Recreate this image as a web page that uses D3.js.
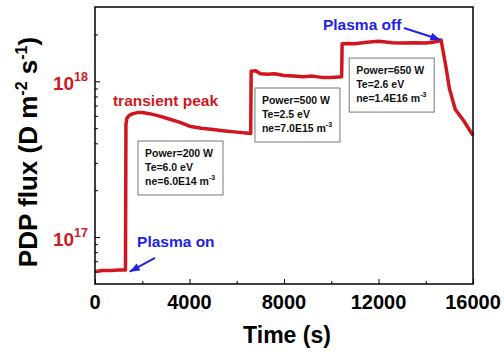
<!DOCTYPE html>
<html lang="en">
<head>
<meta charset="utf-8">
<title>PDP flux vs time</title>
<script src="https://cdn.jsdelivr.net/npm/d3@7"></script>
<style>
  body { margin: 0; background: #fff; }
  text { font-family: "Liberation Sans", Arial, sans-serif; font-weight: bold; }
  .line { fill: none; stroke: #d0161e; stroke-width: 3.5; stroke-linejoin: round; }
  .frame { fill: none; stroke: #000; stroke-width: 1.5; }
  .tick-label { font-size: 20px; fill: #000; }
  .ylab { font-size: 19px; fill: #cc1a22; }
  .axis-title { font-size: 23px; fill: #000; }
  .box rect { fill: #fff; stroke: #777; stroke-width: 1; }
  .box text { font-size: 10.5px; fill: #111; }
  .note-red { font-size: 15.5px; fill: #cc1a22; }
  .note-blue { font-size: 15.5px; fill: #2323e6; }
  .arrow { stroke: #2323e6; stroke-width: 2; fill: none; }
</style>
</head>
<body>
<div id="chart"></div>
<script>
// time (s) and PDP flux (D m^-2 s^-1)
const timeS = [0, 300, 700, 1000, 1290, 1310, 1350, 1450, 1600, 1800, 2000, 2300, 2700, 3100, 3600,
  4000, 4500, 5000, 5500, 6000, 6300, 6590, 6610, 6800, 7000, 7300, 7600, 8000, 8400, 8800,
  9200, 9600, 10000, 10440, 10460, 10700, 11000, 11500, 12000, 12300, 12600, 13000, 13500,
  14000, 14300, 14600, 14650, 14850, 15000, 15250, 15600, 16000];
const fluxD = [6.0e16, 6.1e16, 6.1e16, 6.15e16, 6.15e16, 5.3e17, 5.8e17, 6.05e17, 6.2e17, 6.3e17,
  6.3e17, 6.2e17, 6.0e17, 5.75e17, 5.45e17,
  5.15e17, 5.0e17, 4.9e17, 4.8e17, 4.72e17, 4.68e17, 4.62e17, 1.16e18, 1.17e18, 1.12e18,
  1.11e18, 1.12e18, 1.09e18, 1.08e18, 1.07e18,
  1.08e18, 1.06e18, 1.06e18, 1.07e18, 1.74e18, 1.75e18, 1.74e18, 1.78e18, 1.81e18, 1.79e18,
  1.77e18, 1.76e18, 1.77e18,
  1.76e18, 1.78e18, 1.82e18, 1.84e18, 1.25e18, 9.0e17, 6.6e17, 5.6e17, 4.5e17];

const xMajor = [0, 4000, 8000, 12000, 16000];
const xMinor = [2000, 6000, 10000, 14000];
const yMajor = [1e17, 1e18];
const yMinor = [6e16, 7e16, 8e16, 9e16, 2e17, 3e17, 4e17, 5e17, 6e17, 7e17, 8e17, 9e17, 2e18];

// condition boxes (top-left corner in data units)
const boxTime = [1820, 6770, 10760];
const boxFlux = [4.14e17, 9.06e17, 1.41e18];
const boxPower = ["Power=200 W", "Power=500 W", "Power=650 W"];
const boxTe = ["Te=6.0 eV", "Te=2.5 eV", "Te=2.6 eV"];
const boxNe = ["ne=6.0E14 m", "ne=7.0E15 m", "ne=1.4E16 m"];

// text notes
const noteLabel = ["transient peak", "Plasma off", "Plasma on"];
const noteTime = [760, 9650, 1780];
const noteFlux = [6.95e17, 2.13e18, 8.65e16];
const noteClass = ["note-red", "note-blue", "note-blue"];

// arrows: from -> to
const arrowFrom = [[13080, 2.2e18], [2540, 7.35e16]];
const arrowTo = [[14620, 1.85e18], [1470, 6.0e16]];

const margin = { top: 7, right: 31, bottom: 73, left: 95 };
const width = 504 - margin.left - margin.right;
const height = 357 - margin.top - margin.bottom;

const xScale = d3.scaleLinear().domain([0, 16000]).range([0, width]);
const yScale = d3.scaleLog().domain([5e16, 3e18]).range([height, 0]);

const svg = d3.select("#chart").append("svg")
  .attr("width", 504).attr("height", 357);
const g = svg.append("g")
  .attr("transform", "translate(" + margin.left + "," + margin.top + ")");

svg.append("defs").append("marker")
  .attr("id", "head")
  .attr("markerUnits", "userSpaceOnUse")
  .attr("viewBox", "0 0 10 8")
  .attr("refX", 10).attr("refY", 4)
  .attr("markerWidth", 11).attr("markerHeight", 8)
  .attr("orient", "auto")
  .append("path").attr("d", "M0,0 L10,4 L0,8 Z").attr("fill", "#2323e6");

// ticks (inward)
function tickAxis(axis, values, size, tr) {
  const a = g.append("g").attr("transform", tr)
    .call(axis.tickValues(values).tickSize(-size).tickFormat(""));
  a.select(".domain").remove();
  a.selectAll(".tick line").attr("stroke", "#000").attr("stroke-width", 1);
}
tickAxis(d3.axisBottom(xScale), xMajor, 5, "translate(0," + height + ")");
tickAxis(d3.axisBottom(xScale), xMinor, 3, "translate(0," + height + ")");
tickAxis(d3.axisLeft(yScale), yMajor, 5, "translate(0,0)");
tickAxis(d3.axisLeft(yScale), yMinor, 3, "translate(0,0)");

// x tick labels
g.selectAll(".xl").data(xMajor).enter().append("text")
  .attr("class", "tick-label")
  .attr("x", d => xScale(d))
  .attr("y", height + 25)
  .attr("text-anchor", "middle")
  .text(d => d);

// y tick labels as 10^n
const yl = g.selectAll(".yl").data(yMajor).enter().append("text")
  .attr("class", "ylab")
  .attr("x", -7)
  .attr("y", d => yScale(d) + 9)
  .attr("text-anchor", "end");
yl.append("tspan").text("10");
yl.append("tspan").attr("dy", -9).style("font-size", "12.5px")
  .text(d => Math.round(Math.log10(d)));

// data line
const line = d3.line()
  .x((d, i) => xScale(timeS[i]))
  .y(d => yScale(d));
g.append("path").attr("class", "line").datum(fluxD).attr("d", line);

// frame
g.append("rect").attr("class", "frame").attr("width", width).attr("height", height);

// boxes
boxTime.forEach(function(t, i) {
  const b = g.append("g").attr("class", "box")
    .attr("transform", "translate(" + xScale(t) + "," + yScale(boxFlux[i]) + ")");
  b.append("rect").attr("width", 85).attr("height", 54);
  b.append("text").attr("x", 7).attr("y", 16).text(boxPower[i]);
  b.append("text").attr("x", 7).attr("y", 30).text(boxTe[i]);
  const ne = b.append("text").attr("x", 7).attr("y", 44);
  ne.append("tspan").text(boxNe[i]);
  ne.append("tspan").attr("dy", -5).style("font-size", "7px").text("-3");
});

// notes
noteLabel.forEach(function(s, i) {
  g.append("text").attr("class", noteClass[i])
    .attr("x", xScale(noteTime[i])).attr("y", yScale(noteFlux[i]))
    .text(s);
});

// arrows
arrowFrom.forEach(function(p, i) {
  g.append("line").attr("class", "arrow")
    .attr("x1", xScale(p[0])).attr("y1", yScale(p[1]))
    .attr("x2", xScale(arrowTo[i][0])).attr("y2", yScale(arrowTo[i][1]))
    .attr("marker-end", "url(#head)");
});

// axis titles
g.append("text").attr("class", "axis-title")
  .attr("x", width / 2 + 3).attr("y", height + 59)
  .attr("text-anchor", "middle").text("Time (s)");

const yt = svg.append("text").attr("class", "axis-title")
  .style("font-size", "26px")
  .attr("transform", "rotate(-90)")
  .attr("x", -152).attr("y", 37)
  .attr("text-anchor", "middle");
yt.append("tspan").text("PDP flux (D m");
yt.append("tspan").attr("dy", -10).style("font-size", "16px").text("-2");
yt.append("tspan").attr("dy", 10).text(" s");
yt.append("tspan").attr("dy", -10).style("font-size", "16px").text("-1");
yt.append("tspan").attr("dy", 10).text(")");
</script>
</body>
</html>
